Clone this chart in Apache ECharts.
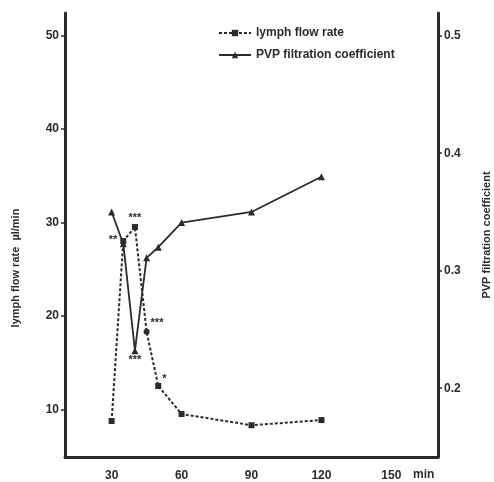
<!DOCTYPE html>
<html>
<head>
<meta charset="utf-8">
<script src="https://cdn.jsdelivr.net/npm/echarts@6/dist/echarts.min.js"></script>
<style>html,body{margin:0;padding:0;background:#fff}#c{width:494px;height:482px}</style>
</head>
<body>
<div id="c"></div>
<script>
const timePoints = [30, 35, 40, 45, 50, 60, 90, 120];
const lymphFlow = [8.75, 28.0, 29.5, 18.3, 12.5, 9.5, 8.3, 8.85];
const pvpCoef = [0.350, 0.323, 0.232, 0.311, 0.320, 0.341, 0.350, 0.380];
const lymphMarks = ['', '**', '***', '***', '*', '', '', ''];
const pvpMarks = ['', '', '***', '', '', '', '', ''];
const xTicks = [30, 60, 90, 120, 150];
const leftTicks = [10, 20, 30, 40, 50];
const rightTicks = [0.2, 0.3, 0.4, 0.5];

const ink = '#2b2b2b';
const font = 'Liberation Sans';

const markPos = {
  '1': {position: 'left', distance: 3, offset: [0, -1]},
  '2': {position: 'top', distance: 1},
  '3': {position: 'right', distance: 1, offset: [0, -9]},
  '4': {position: 'right', distance: 1, offset: [0, -7]}
};

const lymphData = timePoints.map((t, i) => {
  const item = {value: [t, lymphFlow[i]]};
  if (i === 3) item.symbol = 'circle';
  if (lymphMarks[i]) {
    const p = markPos[String(i)];
    item.label = Object.assign({show: true, formatter: lymphMarks[i]}, p);
  }
  return item;
});
const pvpData = timePoints.map((t, i) => {
  const item = {value: [t, pvpCoef[i]]};
  if (pvpMarks[i]) {
    item.label = {show: true, formatter: pvpMarks[i], position: 'bottom', distance: 0};
  }
  return item;
});

const chart = echarts.init(document.getElementById('c'), null, {renderer: 'canvas'});
chart.setOption({
  animation: false,
  backgroundColor: '#fff',
  textStyle: {fontFamily: font, color: ink},
  grid: {left: 65, right: 56, top: 13, bottom: 25, containLabel: false, outerBoundsMode: 'none'},
  legend: {
    orient: 'vertical',
    left: 213,
    top: 22,
    itemWidth: 32,
    itemHeight: 8,
    itemGap: 10,
    textStyle: {fontFamily: font, fontWeight: 'bold', fontSize: 12, color: ink},
    data: ['lymph flow rate', 'PVP filtration coefficient']
  },
  xAxis: {
    type: 'value',
    min: 10,
    max: 170,
    name: 'min',
    nameLocation: 'end',
    nameGap: -25,
    nameTextStyle: {fontFamily: font, fontWeight: 'bold', fontSize: 12, color: ink, align: 'left', verticalAlign: 'top', padding: [12, 0, 0, 0]},
    axisLine: {show: true, lineStyle: {color: ink, width: 3}},
    axisTick: {show: false, customValues: xTicks},
    axisLabel: {customValues: xTicks, fontFamily: font, fontWeight: 'bold', fontSize: 12, color: ink, margin: 13},
    splitLine: {show: false}
  },
  yAxis: [
    {
      type: 'value',
      position: 'left',
      min: 4.9,
      max: 52.4,
      name: 'lymph flow rate  µl/min',
      nameLocation: 'middle',
      nameGap: 44,
      nameTextStyle: {fontFamily: font, fontWeight: 'bold', fontSize: 11, color: ink, padding: [0, 66, 0, 0]},
      axisLine: {show: true, lineStyle: {color: ink, width: 3}},
      axisTick: {show: true, inside: false, length: 4, customValues: leftTicks, lineStyle: {color: ink, width: 1.5}},
      axisLabel: {customValues: leftTicks, fontFamily: font, fontWeight: 'bold', fontSize: 12, color: ink, margin: 6},
      splitLine: {show: false}
    },
    {
      type: 'value',
      position: 'right',
      min: 0.1415,
      max: 0.5193,
      name: 'PVP filtration coefficient',
      nameLocation: 'middle',
      nameGap: 43,
      nameTextStyle: {fontFamily: font, fontWeight: 'bold', fontSize: 11, color: ink},
      axisLine: {show: true, lineStyle: {color: ink, width: 3}},
      axisTick: {show: true, inside: false, length: 4, customValues: rightTicks, lineStyle: {color: ink, width: 1.5}},
      axisLabel: {customValues: rightTicks, fontFamily: font, fontWeight: 'bold', fontSize: 12, color: ink, margin: 6, formatter: v => v.toFixed(1)},
      splitLine: {show: false}
    }
  ],
  series: [
    {
      name: 'lymph flow rate',
      type: 'line',
      yAxisIndex: 0,
      data: lymphData,
      symbol: 'rect',
      symbolSize: 6,
      itemStyle: {color: ink},
      lineStyle: {color: ink, width: 2, type: [3, 2]},
      label: {fontFamily: font, fontWeight: 'bold', fontSize: 11, color: ink},
      z: 3
    },
    {
      name: 'PVP filtration coefficient',
      type: 'line',
      yAxisIndex: 1,
      data: pvpData,
      symbol: 'triangle',
      symbolSize: 7,
      itemStyle: {color: ink},
      lineStyle: {color: ink, width: 1.8},
      label: {fontFamily: font, fontWeight: 'bold', fontSize: 11, color: ink},
      z: 2
    }
  ]
});
</script>
</body>
</html>
